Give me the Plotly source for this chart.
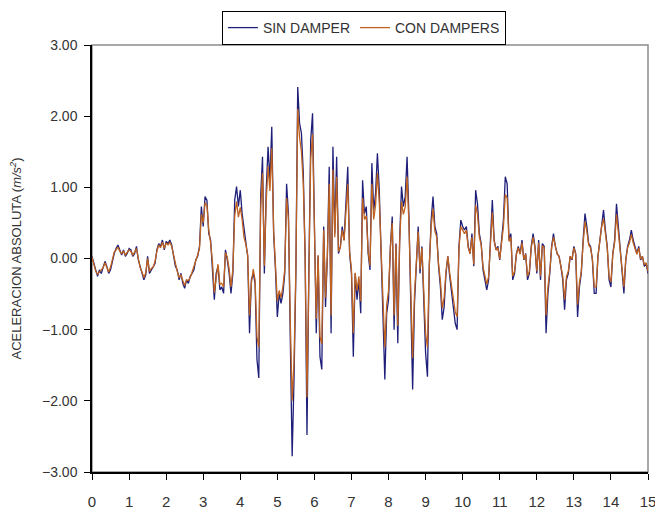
import numpy as np
import plotly.graph_objects as go

# tiempo (s), muestreo cada 0.05 s
dt = 0.05

# aceleracion absoluta sin damper (m/s2)
sin_damper = [
    0.03, -0.05, -0.16, -0.25, -0.16, -0.21, -0.11, -0.04, -0.11, -0.21, -0.16, -0.02, 0.07, 0.14, 0.19, 0.12, 0.05, 0.12, 0.03, 0.07,
    0.14, 0.12, 0.03, 0.07, 0.17, -0.02, -0.11, -0.21, -0.30, -0.23, 0.03, -0.21, -0.16, -0.11, -0.07, 0.12, 0.21, 0.17, 0.26, 0.12,
    0.24, 0.21, 0.26, 0.19, 0.03, -0.11, -0.16, -0.30, -0.21, -0.35, -0.42, -0.30, -0.35, -0.25, -0.21, -0.16, -0.02, 0.03, 0.17, 0.73,
    0.45, 0.87, 0.82, 0.35, 0.26, -0.11, -0.58, -0.21, -0.11, -0.44, -0.40, -0.49, 0.12, -0.02, -0.21, -0.49, -0.21, 0.82, 1.01, 0.73,
    0.96, 0.63, 0.45, 0.26, 0.03, -1.05, -0.30, -0.21, -0.35, -1.42, -1.68, 0.87, 1.43, -0.21, 0.96, 1.57, 1.10, 1.85, 0.35, -0.16,
    -0.82, -0.49, -0.63, -0.49, -0.21, 1.05, 0.63, -1.14, -2.78, -1.70, -0.21, 2.41, 1.90, 1.76, 1.20, 0.03, -2.48, -0.21, 1.66, 2.04,
    0.45, -1.05, 0.03, -1.38, -1.56, 0.45, -0.68, 0.03, 1.29, -1.05, 1.57, 0.35, 1.43, 0.07, 0.17, 0.45, 0.26, 0.73, 1.29, 0.07,
    -0.21, -1.38, -0.21, -0.58, -0.30, -0.77, 1.10, 0.63, 0.73, 0.07, -0.16, 1.34, 0.68, 0.91, 1.48, 0.96, 0.17, -0.77, -1.70, -0.77,
    -0.58, 0.17, 0.59, -1.00, 0.21, -1.19, 0.26, 1.01, 0.73, 0.87, 1.43, 0.59, -0.49, -1.84, -0.63, 0.03, 0.45, -0.21, 0.17, -0.58,
    -1.33, -1.66, -0.11, 0.54, 0.87, 0.45, 0.35, -0.11, -0.40, -0.86, -0.68, -0.21, 0.03, -0.25, -0.49, -0.68, -0.91, -1.00, 0.17, 0.54,
    0.45, 0.40, 0.45, 0.17, 0.07, 0.35, -0.11, 0.96, 0.77, 0.35, 0.21, -0.16, -0.30, -0.44, -0.30, 0.26, 0.82, 0.26, 0.12, 0.17,
    -0.02, 0.26, 0.54, 1.15, 1.05, 0.26, 0.35, -0.30, -0.21, 0.07, 0.17, 0.07, 0.26, -0.02, 0.07, -0.30, -0.21, 0.17, 0.35, 0.17,
    -0.21, 0.26, -0.30, 0.21, 0.17, -1.05, -0.49, -0.21, 0.17, 0.35, 0.17, 0.07, 0.03, -0.11, -0.30, -0.72, -0.30, -0.21, 0.03, -0.02,
    0.17, 0.07, -0.82, -0.40, -0.21, 0.26, 0.63, 0.45, 0.21, 0.17, -0.02, -0.49, -0.49, 0.03, 0.26, 0.54, 0.68, 0.40, 0.17, -0.30,
    -0.40, 0.07, 0.26, 0.77, 0.45, 0.17, -0.21, -0.49, -0.02, 0.17, 0.26, 0.40, 0.26, 0.17, 0.07, 0.17, -0.02, 0.03, -0.11, -0.07,
    -0.21,
]

# aceleracion absoluta con dampers (m/s2)
con_dampers = [
    0.02, -0.08, -0.18, -0.22, -0.19, -0.17, -0.13, -0.06, -0.13, -0.19, -0.12, 0.00, 0.09, 0.12, 0.16, 0.10, 0.07, 0.10, 0.05, 0.09,
    0.12, 0.10, 0.05, 0.09, 0.14, 0.00, -0.13, -0.19, -0.27, -0.20, 0.00, -0.18, -0.14, -0.12, -0.04, 0.10, 0.19, 0.15, 0.23, 0.14,
    0.22, 0.19, 0.23, 0.17, 0.05, -0.09, -0.18, -0.27, -0.23, -0.31, -0.38, -0.30, -0.31, -0.27, -0.19, -0.14, -0.04, 0.05, 0.14, 0.62,
    0.50, 0.78, 0.75, 0.40, 0.22, -0.05, -0.48, -0.25, -0.08, -0.36, -0.35, -0.40, 0.08, 0.02, -0.15, -0.40, -0.15, 0.60, 0.80, 0.58,
    0.72, 0.55, 0.30, 0.20, 0.05, -0.80, -0.35, -0.15, -0.30, -1.10, -1.25, 0.70, 1.20, -0.10, 0.80, 1.30, 0.95, 1.55, 0.40, -0.10,
    -0.60, -0.45, -0.55, -0.40, -0.15, 0.85, 0.55, -0.90, -2.00, -1.45, -0.15, 2.10, 1.70, 1.50, 1.05, 0.05, -1.95, -0.25, 1.40, 1.75,
    0.40, -0.85, 0.05, -1.10, -1.20, 0.40, -0.55, 0.05, 1.05, -0.80, 1.25, 0.30, 1.15, 0.10, 0.15, 0.40, 0.25, 0.60, 1.05, 0.10,
    -0.15, -1.05, -0.20, -0.45, -0.25, -0.60, 0.85, 0.55, 0.60, 0.10, -0.10, 1.05, 0.55, 0.75, 1.20, 0.80, 0.15, -0.60, -1.25, -0.65,
    -0.45, 0.15, 0.50, -0.80, 0.20, -0.95, 0.22, 0.80, 0.62, 0.72, 1.15, 0.50, -0.40, -1.40, -0.50, 0.03, 0.38, -0.15, 0.15, -0.45,
    -1.05, -1.25, -0.08, 0.45, 0.70, 0.38, 0.30, -0.08, -0.32, -0.70, -0.55, -0.18, 0.03, -0.20, -0.40, -0.55, -0.75, -0.82, 0.14, 0.45,
    0.40, 0.35, 0.40, 0.15, 0.07, 0.30, -0.08, 0.75, 0.62, 0.30, 0.19, -0.12, -0.24, -0.36, -0.25, 0.22, 0.65, 0.24, 0.12, 0.15,
    -0.01, 0.22, 0.45, 0.90, 0.85, 0.24, 0.30, -0.25, -0.18, 0.06, 0.15, 0.06, 0.22, -0.01, 0.06, -0.25, -0.18, 0.15, 0.30, 0.15,
    -0.18, 0.22, -0.25, 0.18, 0.15, -0.80, -0.40, -0.18, 0.15, 0.30, 0.15, 0.06, 0.03, -0.09, -0.25, -0.58, -0.25, -0.18, 0.03, -0.01,
    0.15, 0.06, -0.65, -0.34, -0.18, 0.22, 0.52, 0.38, 0.19, 0.15, -0.01, -0.40, -0.40, 0.03, 0.22, 0.45, 0.56, 0.35, 0.15, -0.25,
    -0.33, 0.06, 0.22, 0.62, 0.38, 0.15, -0.18, -0.40, -0.02, 0.15, 0.22, 0.34, 0.22, 0.15, 0.06, 0.15, -0.01, 0.03, -0.09, -0.06,
    -0.18,
]

x_ticks = list(range(0, 16))
y_ticks = [-3, -2, -1, 0, 1, 2, 3]

t = np.round(np.arange(len(sin_damper)) * dt, 2)

font_txt = "Liberation Sans, Arial, sans-serif"

fig = go.Figure()

fig.add_trace(go.Scatter(
    x=t, y=sin_damper, mode="lines", name="SIN DAMPER",
    line=dict(color="#1f1f7a", width=1.3),
))
fig.add_trace(go.Scatter(
    x=t, y=con_dampers, mode="lines", name="CON DAMPERS",
    line=dict(color="#bf6220", width=1.3),
))

# marco gris del area de trazado
fig.add_shape(type="rect", xref="paper", yref="paper", x0=0, x1=1, y0=0, y1=1,
              line=dict(color="#8c8c8c", width=1.5), layer="below")

# la pagina agrega 8 px de margen al body, por eso la figura es 8 px menor
fig.update_layout(
    width=655, height=505,
    margin=dict(l=84, r=15, t=37, b=41, autoexpand=False),
    paper_bgcolor="white", plot_bgcolor="white",
    font=dict(family=font_txt, size=14, color="#333333"),
    legend=dict(
        orientation="h", x=0.489, xanchor="center", y=1.0, yanchor="bottom",
        bordercolor="black", borderwidth=1, bgcolor="white",
        font=dict(size=14), itemwidth=30, tracegroupgap=0,
    ),
)

fig.update_xaxes(
    range=[0, 15], tickvals=x_ticks, ticks="outside", ticklen=6, tickcolor="black",
    showline=True, linecolor="black", linewidth=1.5, showgrid=False, zeroline=False,
    tickfont=dict(size=15), ticklabelstandoff=9,
)
fig.update_yaxes(
    range=[-3, 3], tickvals=y_ticks, tickformat=".2f", ticks="outside", ticklen=6,
    tickcolor="black", showline=True, linecolor="black", linewidth=1.5,
    showgrid=False, zeroline=False, tickfont=dict(size=14), ticklabelstandoff=4,
    title=dict(text="ACELERACION ABSOLUTA (<i>m/s<sup>2</sup></i>)", font=dict(size=13), standoff=18),
)

fig.write_html("out.html")
